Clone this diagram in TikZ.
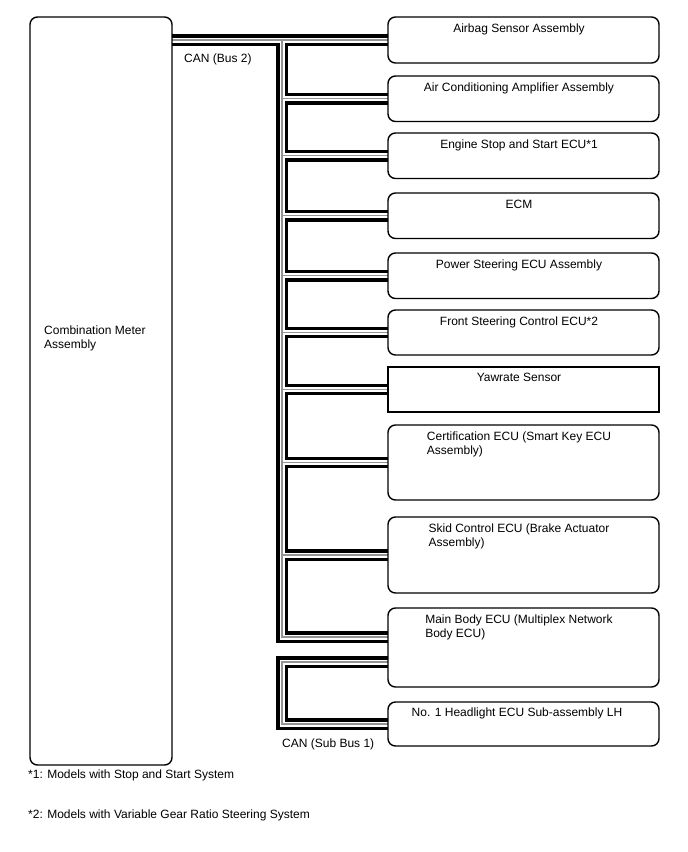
\documentclass[tikz,border=0pt]{standalone}
\usepackage{fontspec}
\setmainfont{Liberation Sans}
\pgfdeclarelayer{bg}
\pgfsetlayers{bg,main}
\begin{document}
\begin{tikzpicture}[x=1pt,y=-1pt,
  box/.style={draw, line width=1.4pt, rounded corners=7.5pt, anchor=north west,
              minimum width=271pt, inner sep=0pt, outer sep=0pt},
  sqbox/.style={box, rounded corners=0pt},
  txt/.style={font=\fontsize{12}{14}\selectfont, inner sep=0pt, align=left},
  ttl/.style={txt, anchor=north},
  busA/.style={line width=11.5pt, black, line join=miter},
  busB/.style={line width=5pt, white, line join=miter},
  busC/.style={line width=1.2pt, black!42, line join=miter}]
\useasboundingbox (0,0) rectangle (688,852);

% boxes
\node[box, minimum width=142pt, minimum height=748pt] (cm) at (30,17) {};
\node[box, minimum height=46pt] (airbag) at (388,17) {};
\node[box, minimum height=45.5pt] (ac) at (388,76) {};
\node[box, minimum height=45.5pt] (eng) at (388,133) {};
\node[box, minimum height=45.5pt] (ecm) at (388,193) {};
\node[box, minimum height=45.5pt] (ps) at (388,253) {};
\node[box, minimum height=45pt] (fs) at (388,310) {};
\node[sqbox, minimum height=45pt] (yaw) at (388,367) {};
\node[box, minimum height=75pt] (cert) at (388,425) {};
\node[box, minimum height=76pt] (skid) at (388,517) {};
\node[box, minimum height=79pt] (mb) at (388,608) {};
\node[box, minimum height=44pt] (hl) at (388,702) {};

% texts
\node[txt, anchor=north west] (cmt) at (44,326) {Combination Meter\\Assembly};
\node[ttl] (airbagt) at (519,24) {Airbag Sensor Assembly};
\node[ttl] (act) at (519,83) {Air Conditioning Amplifier Assembly};
\node[ttl] (engt) at (519,140) {Engine Stop and Start ECU*1};
\node[ttl] (ecmt) at (519,200) {ECM};
\node[ttl] (pst) at (519,260) {Power Steering ECU Assembly};
\node[ttl] (fst) at (519,317) {Front Steering Control ECU*2};
\node[ttl] (yawt) at (519,373) {Yawrate Sensor};
\node[ttl] (certt) at (519,432) {Certification ECU (Smart Key ECU\\Assembly)};
\node[ttl] (skidt) at (519,524) {Skid Control ECU (Brake Actuator\\Assembly)};
\node[ttl] (mbt) at (519,615) {Main Body ECU (Multiplex Network\\Body ECU)};
\node[ttl] (hlt) at (517,708) {No. 1 Headlight ECU Sub-assembly LH};
\node[txt, anchor=north west] (can2) at (184,53.5) {CAN (Bus 2)};
\node[txt, anchor=north west] (cansub) at (282,738.5) {CAN (Sub Bus 1)};
\node[txt, anchor=north west] (fn1) at (28,770) {*1: Models with Stop and Start System};
\node[txt, anchor=north west] (fn2) at (28,810) {*2: Models with Variable Gear Ratio Steering System};

% bus geometry
\coordinate (tx) at (282,0);
\coordinate (mbA) at ([yshift=10.5pt]mb.west);
\coordinate (mbB) at ([yshift=-14.5pt]mb.west);

\newcommand\canpaths[1]{%
  \draw[#1] (cm.east |- airbag.west) -- (airbag.west);
  \draw[#1] (tx |- airbag.west) -- (tx |- mbA) -- (mbA);
  \foreach \n in {ac,eng,ecm,ps,fs,yaw,cert,skid}
    \draw[#1] (tx |- \n.west) -- (\n.west);
  \draw[#1] (mbB) -- (tx |- mbB) -- (tx |- hl.west) -- (hl.west);
}
\begin{pgfonlayer}{bg}
  \canpaths{busA}
  \canpaths{busB}
  \canpaths{busC}
\end{pgfonlayer}
\end{tikzpicture}
\end{document}
